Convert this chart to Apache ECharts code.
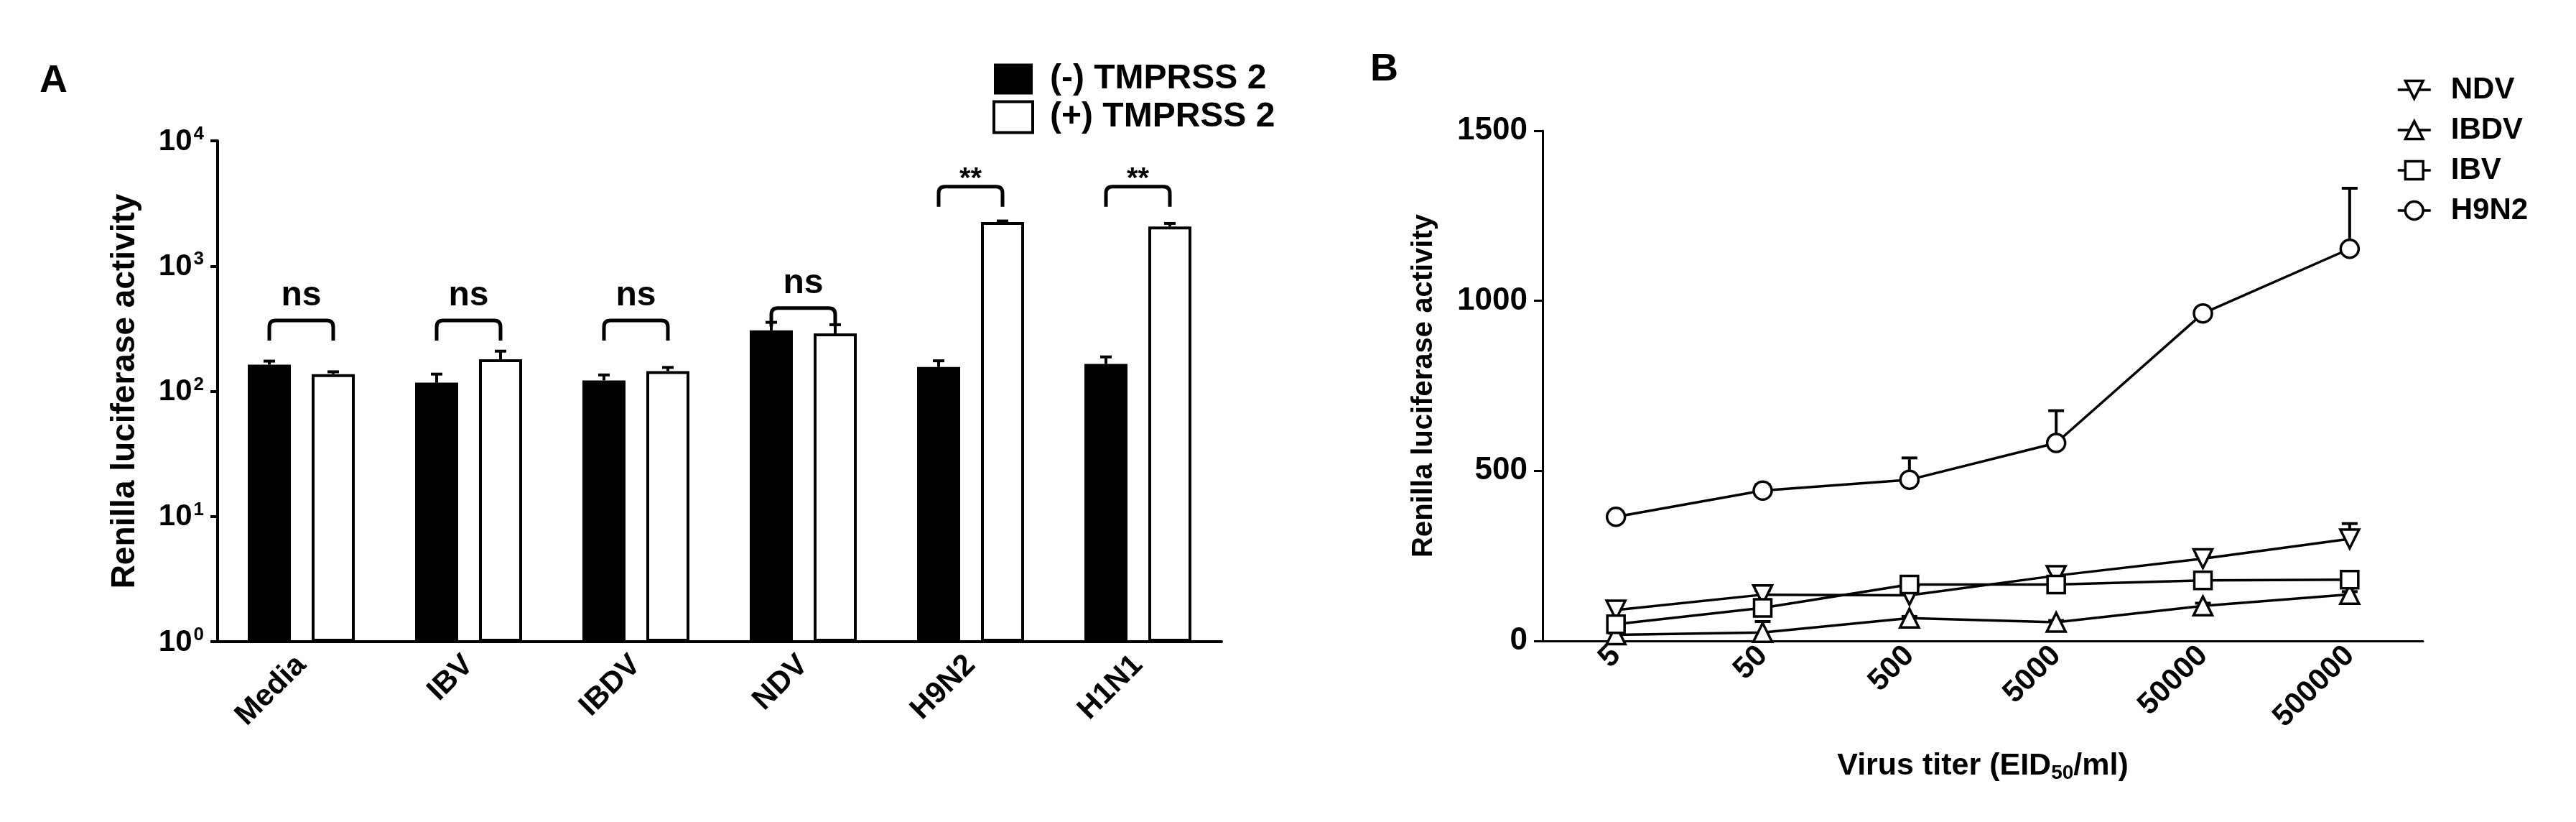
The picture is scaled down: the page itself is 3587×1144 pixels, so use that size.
<!DOCTYPE html>
<html><head><meta charset="utf-8">
<script src="https://cdn.jsdelivr.net/npm/echarts@6/dist/echarts.min.js"></script>
<style>html,body{margin:0;padding:0;background:#fff}#c{width:3587px;height:1144px}</style>
</head><body><div id="c"></div>
<script>
// ---------- Panel A data ----------
const categoriesA = ['Media', 'IBV', 'IBDV', 'NDV', 'H9N2', 'H1N1'];
const minusTMPRSS2 = [163, 117, 122, 306, 156, 165];
const minusErr = [11, 20, 13, 49, 19, 23];
const plusTMPRSS2 = [137, 180, 145, 290, 2250, 2070];
const plusErr = [6, 29, 10, 50, 40, 120];
const sigLabels = ['ns', 'ns', 'ns', 'ns', '**', '**'];
const sigTop = [368, 368, 368, 461, 4300, 4300];
const sigLegEnd = [254, 254, 254, 330, 2970, 2970];

// ---------- Panel B data ----------
const titersB = ['5', '50', '500', '5000', '50000', '500000'];
const ndv = [91, 136, 134, 192, 242, 300];
const ndvErr = [15, 12, 8, 15, 10, 45];
const ibdv = [18, 25, 67, 55, 103, 137];
const ibdvErr = [5, 32, 5, 5, 8, 8];
const ibv = [49, 97, 166, 166, 178, 180];
const ibvErr = [10, 8, 10, 15, 10, 12];
const h9n2 = [365, 442, 474, 582, 963, 1153];
const h9n2Err = [8, 18, 64, 95, 8, 178];

const FONT = "'Liberation Sans', Arial, sans-serif";
const BAR_W = 60, BAR_GAP = 0.483;
const OFF = BAR_W * (1 + BAR_GAP) / 2;

function errBarSeries(vals, errs, sign, xi, yi, capHalf, lw, z) {
  return {
    type: 'custom', xAxisIndex: xi, yAxisIndex: yi, z: z, silent: true, clip: false,
    data: vals.map((v, i) => [i, v, v + errs[i]]),
    encode: { x: 0, y: 1 },
    renderItem: function (params, api) {
      const i = api.value(0);
      const p0 = api.coord([i, api.value(1)]);
      const p1 = api.coord([i, api.value(2)]);
      const x = p0[0] + sign * OFF;
      const st = { stroke: '#000', lineWidth: lw, lineCap: 'butt' };
      return { type: 'group', children: [
        { type: 'line', shape: { x1: x, y1: p0[1], x2: x, y2: p1[1] }, style: st },
        { type: 'line', shape: { x1: x - capHalf, y1: p1[1], x2: x + capHalf, y2: p1[1] }, style: st }
      ]};
    }
  };
}

const option = {
  backgroundColor: '#fff',
  animation: false,
  textStyle: { fontFamily: FONT },
  graphic: [
    { type: 'text', left: 55, top: 86, style: { text: 'A', font: "bold 54px " + FONT, fill: '#000' } },
    { type: 'text', left: 1908, top: 70, style: { text: 'B', font: "bold 54px " + FONT, fill: '#000' } }
  ],
  legend: [
    {
      orient: 'vertical', left: 1377, top: 81, itemWidth: 54, itemHeight: 43, itemGap: 5,
      textStyle: { fontSize: 48, fontWeight: 'bold', color: '#000', fontFamily: FONT, padding: [0, 0, 0, 19] },
      data: [
        { name: '(-) TMPRSS 2', icon: 'rect', itemStyle: { color: '#000', borderWidth: 0 } },
        { name: '(+) TMPRSS 2', icon: 'rect', itemStyle: { color: '#fff', borderColor: '#000', borderWidth: 4 } }
      ]
    },
    {
      orient: 'vertical', left: 3332, top: 99, itemWidth: 46, itemHeight: 31, itemGap: 14,
      itemStyle: { borderWidth: 3.5 }, lineStyle: { width: 3.5 },
      textStyle: { fontSize: 42, fontWeight: 'bold', color: '#000', fontFamily: FONT, padding: [0, 0, 0, 23] },
      data: ['NDV', 'IBDV', 'IBV', 'H9N2']
    }
  ],
  grid: [
    { left: 303, top: 196, width: 1398, height: 697 },
    { left: 2148, top: 182, width: 1226, height: 710 }
  ],
  xAxis: [
    {
      type: 'category', gridIndex: 0, data: categoriesA,
      axisLine: { lineStyle: { color: '#000', width: 4 } },
      axisTick: { alignWithLabel: true, length: 14, lineStyle: { color: '#000', width: 4 } },
      axisLabel: { rotate: 45, interval: 0, fontSize: 42, fontWeight: 'bold', color: '#000', margin: 26, fontFamily: FONT }
    },
    {
      type: 'category', gridIndex: 1, data: titersB,
      axisLine: { lineStyle: { color: '#000', width: 3 } },
      axisTick: { alignWithLabel: true, length: 11, lineStyle: { color: '#000', width: 3 } },
      axisLabel: { rotate: 45, interval: 0, fontSize: 42, fontWeight: 'bold', color: '#000', margin: 14, fontFamily: FONT },
      name: 'Virus titer (EID{sub|50}/ml)', nameLocation: 'middle', nameGap: 150,
      nameTextStyle: { fontSize: 43, fontWeight: 'bold', color: '#000', fontFamily: FONT, lineHeight: 48,
        rich: { sub: { fontSize: 28, fontWeight: 'bold', fontFamily: FONT, verticalAlign: 'bottom', lineHeight: 20 } } }
    }
  ],
  yAxis: [
    {
      type: 'log', logBase: 10, min: 1, max: 10000, gridIndex: 0,
      axisLine: { show: true, lineStyle: { color: '#000', width: 4 } },
      axisTick: { show: true, length: 10, lineStyle: { color: '#000', width: 4 } },
      splitLine: { show: false },
      axisLabel: {
        margin: 19, color: '#000',
        formatter: function (v) { return '{b|10}{s|' + Math.round(Math.log10(v)) + '}'; },
        rich: {
          b: { fontSize: 42, fontWeight: 'bold', fontFamily: FONT, color: '#000', lineHeight: 44, verticalAlign: 'bottom' },
          s: { fontSize: 26, fontWeight: 'bold', fontFamily: FONT, color: '#000', verticalAlign: 'top', padding: [0, 0, 0, 2] }
        }
      },
      name: 'Renilla luciferase activity', nameLocation: 'middle', nameGap: 106,
      nameTextStyle: { fontSize: 46, fontWeight: 'bold', color: '#000', fontFamily: FONT }
    },
    {
      type: 'value', min: 0, max: 1500, interval: 500, gridIndex: 1,
      axisLine: { show: true, lineStyle: { color: '#000', width: 3 } },
      axisTick: { show: true, length: 12, lineStyle: { color: '#000', width: 3 } },
      splitLine: { show: false },
      axisLabel: { margin: 21, fontSize: 44, fontWeight: 'bold', color: '#000', fontFamily: FONT,
        formatter: function (v) { return String(v); } },
      name: 'Renilla luciferase activity', nameLocation: 'middle', nameGap: 145,
      nameTextStyle: { fontSize: 40, fontWeight: 'bold', color: '#000', fontFamily: FONT }
    }
  ],
  series: [
    {
      type: 'bar', name: '(-) TMPRSS 2', xAxisIndex: 0, yAxisIndex: 0, data: minusTMPRSS2,
      barWidth: BAR_W, barGap: (BAR_GAP * 100) + '%', itemStyle: { color: '#000' }, z: 2
    },
    {
      type: 'bar', name: '(+) TMPRSS 2', xAxisIndex: 0, yAxisIndex: 0, data: plusTMPRSS2,
      barWidth: BAR_W, barGap: (BAR_GAP * 100) + '%', itemStyle: { color: '#fff', borderColor: '#000', borderWidth: 4 }, z: 3
    },
    errBarSeries(minusTMPRSS2, minusErr, -1, 0, 0, 8, 4, 4),
    errBarSeries(plusTMPRSS2, plusErr, 1, 0, 0, 8, 4, 4),
    {
      type: 'custom', xAxisIndex: 0, yAxisIndex: 0, z: 5, silent: true, clip: false,
      data: sigTop.map((t, i) => [i, t, sigLegEnd[i]]),
      encode: { x: 0, y: 1 },
      renderItem: function (params, api) {
        const i = api.value(0);
        const pt = api.coord([i, api.value(1)]);
        const pl = api.coord([i, api.value(2)]);
        const x1 = pt[0] - OFF, x2 = pt[0] + OFF, yt = pt[1], yl = pl[1], r = 9;
        const d = 'M' + x1 + ' ' + yl + 'L' + x1 + ' ' + (yt + r) + 'Q' + x1 + ' ' + yt + ' ' + (x1 + r) + ' ' + yt +
          'L' + (x2 - r) + ' ' + yt + 'Q' + x2 + ' ' + yt + ' ' + x2 + ' ' + (yt + r) + 'L' + x2 + ' ' + yl;
        const lab = sigLabels[i];
        const star = lab.indexOf('*') >= 0;
        return { type: 'group', children: [
          { type: 'path', shape: { pathData: d }, style: { stroke: '#000', lineWidth: 5, fill: null, lineJoin: 'round' } },
          { type: 'text', style: { text: lab, x: pt[0], y: star ? yt + 10 : yt - 10, align: 'center', verticalAlign: 'bottom',
              font: 'bold ' + (star ? 40 : 48) + 'px ' + FONT, fill: '#000' } }
        ]};
      }
    },
    errBarSeries(ndv, ndvErr, 0, 1, 1, 11, 4, 1),
    errBarSeries(ibdv, ibdvErr, 0, 1, 1, 11, 4, 1),
    errBarSeries(ibv, ibvErr, 0, 1, 1, 11, 4, 1),
    errBarSeries(h9n2, h9n2Err, 0, 1, 1, 11, 4, 1),
    {
      type: 'line', name: 'NDV', xAxisIndex: 1, yAxisIndex: 1, data: ndv, z: 3,
      symbol: 'triangle', symbolRotate: 180, symbolSize: 26, showAllSymbol: true,
      lineStyle: { color: '#000', width: 3.5 }, itemStyle: { color: '#fff', borderColor: '#000', borderWidth: 3.5 }
    },
    {
      type: 'line', name: 'IBDV', xAxisIndex: 1, yAxisIndex: 1, data: ibdv, z: 3,
      symbol: 'triangle', symbolSize: 26,
      lineStyle: { color: '#000', width: 3.5 }, itemStyle: { color: '#fff', borderColor: '#000', borderWidth: 3.5 }
    },
    {
      type: 'line', name: 'IBV', xAxisIndex: 1, yAxisIndex: 1, data: ibv, z: 3,
      symbol: 'rect', symbolSize: 24,
      lineStyle: { color: '#000', width: 3.5 }, itemStyle: { color: '#fff', borderColor: '#000', borderWidth: 3.5 }
    },
    {
      type: 'line', name: 'H9N2', xAxisIndex: 1, yAxisIndex: 1, data: h9n2, z: 3,
      symbol: 'circle', symbolSize: 25,
      lineStyle: { color: '#000', width: 3.5 }, itemStyle: { color: '#fff', borderColor: '#000', borderWidth: 3.5 }
    }
  ]
};
const chart = echarts.init(document.getElementById('c'), null, { renderer: 'canvas' });
chart.setOption(option);
</script>
</body></html>
